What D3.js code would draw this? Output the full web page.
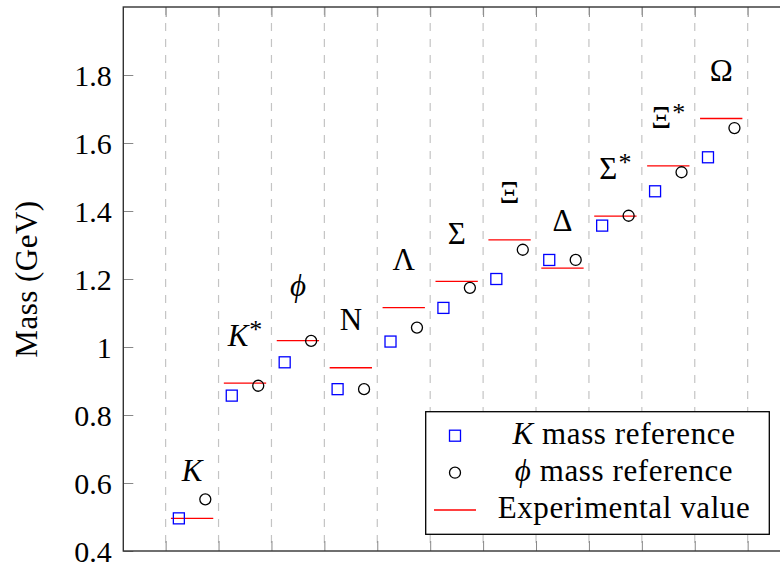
<!DOCTYPE html>
<html>
<head>
<meta charset="utf-8">
<script src="https://cdn.jsdelivr.net/npm/d3@7"></script>
<style>
  body { margin: 0; background: #fff; }
  text { font-family: "Liberation Serif", "DejaVu Serif", serif; fill: #000; }
</style>
</head>
<body>
<svg width="780" height="566"></svg>
<script>
// particle names and masses (GeV)
var particles    = ["K", "K*", "ϕ", "N", "Λ", "Σ", "Ξ", "Δ", "Σ*", "Ξ*", "Ω"];
var kRef         = [0.496, 0.857, 0.955, 0.876, 1.016, 1.115, 1.200, 1.256, 1.357, 1.458, 1.558];
var phiRef       = [0.552, 0.886, 1.018, 0.876, 1.057, 1.174, 1.286, 1.256, 1.386, 1.514, 1.644];
var experimental = [0.496, 0.894, 1.019, 0.939, 1.116, 1.193, 1.315, 1.232, 1.385, 1.533, 1.672];
var yTicks = [0.4, 0.6, 0.8, 1.0, 1.2, 1.4, 1.6, 1.8];

var svg = d3.select("svg");
var pLeft = 123.3, pRight = 790, pTop = 7, pBottom = 551;

var x = d3.scaleLinear().domain([-0.3, 12.3]).range([pLeft, pRight]);
var y = d3.scaleLinear().domain([0.4, 2.0]).range([pBottom, pTop]);

var data = particles.map(function(p, i) {
  return { name: p, pos: i + 1, k: kRef[i], phi: phiRef[i], exp: experimental[i] };
});

// grid lines between particles
var gridPos = d3.range(0.5, particles.length + 1, 1);
svg.append("g")
  .selectAll("line")
  .data(gridPos)
  .enter().append("line")
    .attr("x1", function(d) { return x(d); })
    .attr("x2", function(d) { return x(d); })
    .attr("y1", pTop)
    .attr("y2", pBottom)
    .attr("stroke", "#c4c4c4")
    .attr("stroke-width", 1.2)
    .attr("stroke-dasharray", "8,8");

// axes (ticks inside on all four sides)
var tickLen = 10;
svg.append("g")
    .attr("transform", "translate(" + pLeft + ",0)")
    .call(d3.axisLeft(y).tickValues(yTicks).tickSize(-tickLen).tickPadding(11.5)
      .tickFormat(function(d) { return String(+d.toFixed(1)); }))
    .call(function(g) {
      g.select(".domain").remove();
      g.selectAll(".tick line").attr("stroke", "#888");
      g.selectAll(".tick text")
        .style("font-family", "'Liberation Serif', serif")
        .style("font-size", "30px")
        .attr("fill", "#000")
        .attr("dy", "0.34em");
    });

svg.append("g")
    .attr("transform", "translate(" + pRight + ",0)")
    .call(d3.axisRight(y).tickValues(yTicks).tickSize(-tickLen).tickFormat(""))
    .call(function(g) {
      g.select(".domain").remove();
      g.selectAll(".tick line").attr("stroke", "#888");
    });

svg.append("g")
    .attr("transform", "translate(0," + pBottom + ")")
    .call(d3.axisBottom(x).tickValues(gridPos).tickSize(-tickLen).tickFormat(""))
    .call(function(g) {
      g.select(".domain").remove();
      g.selectAll(".tick line").attr("stroke", "#888");
    });

svg.append("g")
    .attr("transform", "translate(0," + pTop + ")")
    .call(d3.axisTop(x).tickValues(gridPos).tickSize(-tickLen).tickFormat(""))
    .call(function(g) {
      g.select(".domain").remove();
      g.selectAll(".tick line").attr("stroke", "#888");
    });

// frame
svg.append("rect")
    .attr("x", pLeft)
    .attr("y", pTop)
    .attr("width", pRight - pLeft)
    .attr("height", pBottom - pTop)
    .attr("fill", "none")
    .attr("stroke", "#333")
    .attr("stroke-width", 1.4);

// experimental values
svg.append("g")
  .selectAll("line")
  .data(data)
  .enter().append("line")
    .attr("x1", function(d) { return x(d.pos - 0.4); })
    .attr("x2", function(d) { return x(d.pos + 0.4); })
    .attr("y1", function(d) { return y(d.exp); })
    .attr("y2", function(d) { return y(d.exp); })
    .attr("stroke", "#ff0000")
    .attr("stroke-width", 1.3);

// K mass reference (squares)
var sq = 11;
svg.append("g")
  .selectAll("rect")
  .data(data)
  .enter().append("rect")
    .attr("x", function(d) { return x(d.pos - 0.25) - sq / 2; })
    .attr("y", function(d) { return y(d.k) - sq / 2; })
    .attr("width", sq)
    .attr("height", sq)
    .attr("fill", "none")
    .attr("stroke", "#0000ff")
    .attr("stroke-width", 1.3);

// phi mass reference (circles)
svg.append("g")
  .selectAll("circle")
  .data(data)
  .enter().append("circle")
    .attr("cx", function(d) { return x(d.pos + 0.25); })
    .attr("cy", function(d) { return y(d.phi); })
    .attr("r", 5.5)
    .attr("fill", "none")
    .attr("stroke", "#000")
    .attr("stroke-width", 1.3);

// particle labels, sitting 0.11 GeV above the experimental value
var labels = svg.append("g")
  .selectAll("text")
  .data(data)
  .enter().append("text")
    .attr("x", function(d) { return x(d.pos); })
    .attr("y", function(d) { return y(d.exp + 0.11); })
    .attr("dy", function(d) { return d.name == "ϕ" ? "-0.22em" : null; })
    .attr("text-anchor", "middle")
    .style("font-size", "31px")
    .style("font-style", function(d) { return /^[Kϕ]/.test(d.name) ? "italic" : "normal"; });

labels.append("tspan")
    .text(function(d) { return d.name.replace("*", ""); });
labels.filter(function(d) { return d.name.indexOf("*") >= 0; })
  .append("tspan")
    .attr("dx", "1")
    .attr("dy", "-0.3em")
    .style("font-size", "26px")
    .style("font-style", "normal")
    .text("*");

// y axis title
svg.append("text")
    .attr("transform", "translate(37," + ((pTop + pBottom) / 2) + ") rotate(-90)")
    .attr("text-anchor", "middle")
    .style("font-size", "31px")
    .style("letter-spacing", "0.5px")
    .text("Mass (GeV)");

// legend
var legend = svg.append("g");
legend.append("rect")
    .attr("x", 425.7)
    .attr("y", 411.7)
    .attr("width", 343.6)
    .attr("height", 122.6)
    .attr("fill", "#fff")
    .attr("stroke", "#000")
    .attr("stroke-width", 1.3);

var rowY = [435.7, 472.7, 510];
legend.append("rect")
    .attr("x", 455 - sq / 2).attr("y", rowY[0] - sq / 2)
    .attr("width", sq).attr("height", sq)
    .attr("fill", "none").attr("stroke", "#0000ff").attr("stroke-width", 1.3);
legend.append("circle")
    .attr("cx", 455).attr("cy", rowY[1]).attr("r", 5.5)
    .attr("fill", "none").attr("stroke", "#000").attr("stroke-width", 1.3);
legend.append("line")
    .attr("x1", 434).attr("x2", 476).attr("y1", rowY[2]).attr("y2", rowY[2])
    .attr("stroke", "#ff0000").attr("stroke-width", 1.3);

var legendText = [["K", " mass reference"], ["ϕ", " mass reference"], ["", "Experimental value"]];
legend.selectAll("text.lt")
  .data(legendText)
  .enter().append("text")
    .attr("class", "lt")
    .attr("x", 624)
    .attr("y", function(d, i) { return rowY[i] + 8; })
    .attr("text-anchor", "middle")
    .style("font-size", "31px")
    .style("letter-spacing", "0.6px")
    .each(function(d) {
      var t = d3.select(this);
      if (d[0]) t.append("tspan").style("font-style", "italic").text(d[0]);
      t.append("tspan").text(d[1]);
    });
</script>
</body>
</html>
